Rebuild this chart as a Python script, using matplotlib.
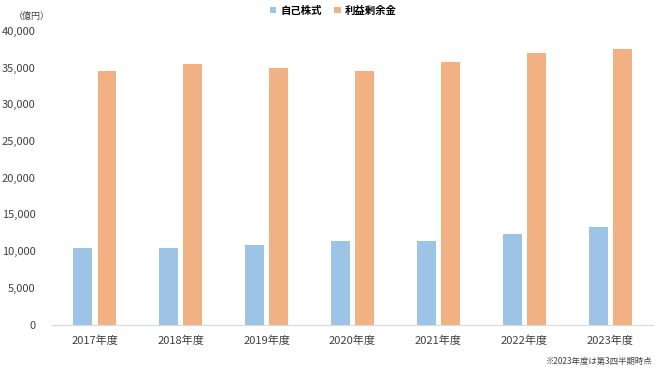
import numpy as np
import matplotlib
matplotlib.use('Agg')
import matplotlib.pyplot as plt

plt.rcParams['font.family'] = ['Noto Sans CJK JP', 'DejaVu Sans']

# データ(億円)
years = ['2017年度', '2018年度', '2019年度', '2020年度', '2021年度', '2022年度', '2023年度']
treasury = [10400, 10400, 10900, 11400, 11400, 12400, 13300]
retained = [34600, 35450, 35000, 34600, 35800, 37050, 37600]

fig = plt.figure(figsize=(6.6, 3.71), dpi=100)
fig.set_facecolor('white')
ax = fig.add_axes([0.0788, 0.1253, 0.9106, 0.7911])

x = np.arange(len(years))
w = 0.22
ax.bar(x - 0.14, treasury, width=w, color='#9DC3E6', label='自己株式')
ax.bar(x + 0.14, retained, width=w, color='#F2B183', label='利益剰余金')

ax.set_xlim(-0.5, len(years) - 0.5)
ax.set_ylim(0, 40000)
ax.set_yticks(np.arange(0, 40001, 5000))
ax.set_yticklabels([f'{v:,}' for v in range(0, 40001, 5000)])
ax.set_xticks(x)
ax.set_xticklabels(years)
ax.tick_params(axis='both', length=0, labelsize=8, colors='#404040')
ax.tick_params(axis='x', pad=8)
ax.tick_params(axis='y', pad=12)
for s in ['top', 'right', 'left']:
    ax.spines[s].set_visible(False)
ax.spines['bottom'].set_color('#D9D9D9')

# 凡例
fig.legend(loc='upper center', bbox_to_anchor=(0.505, 1.01), ncol=2, frameon=False,
           handlelength=0.6, handleheight=0.6, handletextpad=0.4, columnspacing=1.2,
           prop={'size': 7.5, 'weight': 'bold'})

fig.text(0.021, 0.955, '（億円）', fontsize=6.5, color='#404040', va='center')
fig.text(0.988, 0.027, '※2023年度は第3四半期時点', fontsize=6, color='#404040',
         ha='right', va='center')

plt.savefig('out.png', dpi=100, facecolor='white')
plt.close()
